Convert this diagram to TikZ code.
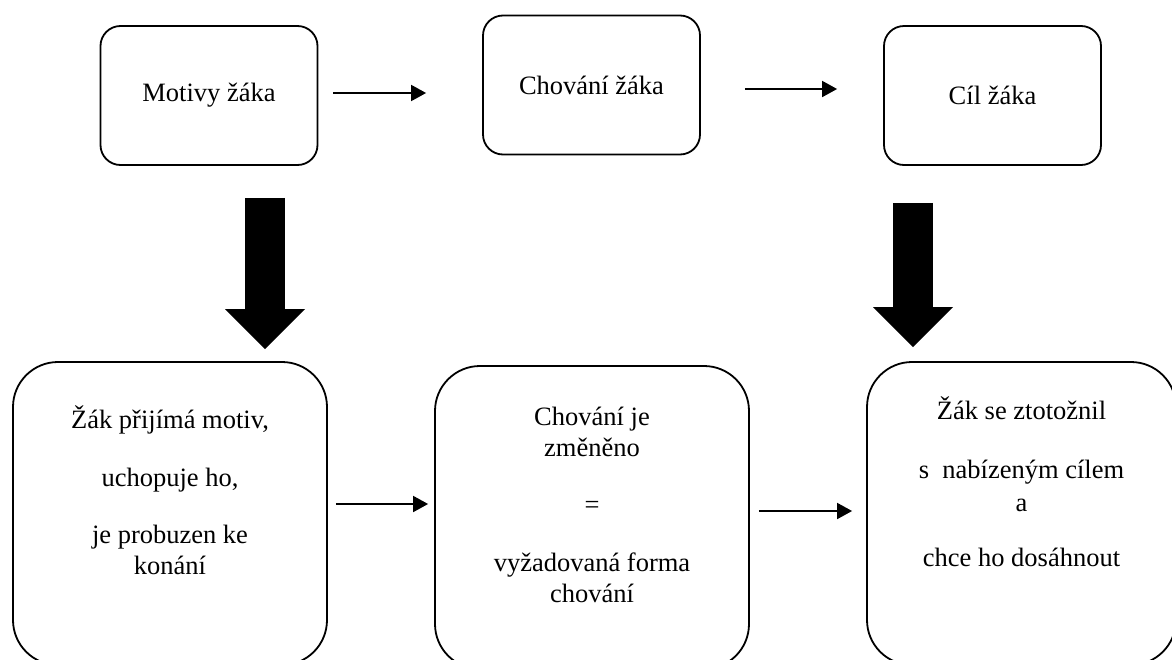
\documentclass[tikz,border=0pt]{standalone}
\usepackage{fontspec}
\setmainfont{Liberation Serif}
\usepackage{tikz}
\usetikzlibrary{arrows.meta}

\tikzset{
  smallbox/.style={draw, line width=1.8pt, rounded corners=20pt,
    minimum width=217pt, minimum height=139pt, inner sep=0pt},
  bigbox/.style={draw, line width=1.8pt, rounded corners=45pt,
    minimum width=314pt, minimum height=303pt, inner sep=0pt},
  boxtext/.style={align=center, inner sep=0pt},
  thinarrow/.style={line width=1.8pt, -{Triangle[length=15pt,width=16pt]}},
  thickarrow/.style={line width=40pt, -{Triangle[length=40pt,width=80pt,line width=0pt]}}
}

\begin{document}
\begin{tikzpicture}[x=1pt, y=-1pt, font=\fontsize{26.5}{31}\selectfont]
  \useasboundingbox (0,0) rectangle (1172,659);

  % horni rada
  \node[smallbox] (motivy) at (209,95.5) {Motivy žáka};
  \node[smallbox] (chovani) at (591.5,85) {Chování žáka};
  \node[smallbox] (cil) at (992.5,95.5) {Cíl žáka};

  % dolni rada
  \node[bigbox, label={[boxtext, yshift=23.5pt]center:{Žák přijímá motiv,\\[27pt]
      uchopuje ho,\\[26pt]
      je probuzen ke\\
      konání}}] (prijeti) at (170,513.5) {};
  \node[bigbox, label={[boxtext, yshift=12.5pt]center:{Chování je\\
      změněno\\[26pt]
      =\\[27pt]
      vyžadovaná forma\\
      chování}}] (zmena) at (592,517.5) {};
  \node[bigbox, minimum width=309pt,
    label={[boxtext, yshift=31.5pt]center:{Žák se ztotožnil\\[28pt]
      s~~nabízeným cílem\\[2pt]
      a\\[24pt]
      chce ho dosáhnout}}] (ztotozneni) at (1021.5,513.5) {};

  \draw[thinarrow] ([xshift=15pt,yshift=2.5pt]motivy.east) -- ([xshift=-56pt,yshift=-8pt]chovani.west);
  \draw[thinarrow] ([xshift=44pt,yshift=-4pt]chovani.east) -- ([xshift=-46pt,yshift=6.5pt]cil.west);
  \draw[thinarrow] ([xshift=8pt,yshift=9.5pt]prijeti.east) -- ([xshift=-6pt,yshift=13.5pt]zmena.west);
  \draw[thinarrow] ([xshift=9pt,yshift=6.5pt]zmena.east) -- ([xshift=-14pt,yshift=2.5pt]ztotozneni.west);

  \draw[thickarrow] ([xshift=56pt,yshift=-32pt]motivy.south) -- ([xshift=95pt,yshift=12pt]prijeti.north);
  \draw[thickarrow] ([xshift=-79.5pt,yshift=-37pt]cil.south) -- ([xshift=-108.5pt,yshift=14pt]ztotozneni.north);
\end{tikzpicture}
\end{document}
